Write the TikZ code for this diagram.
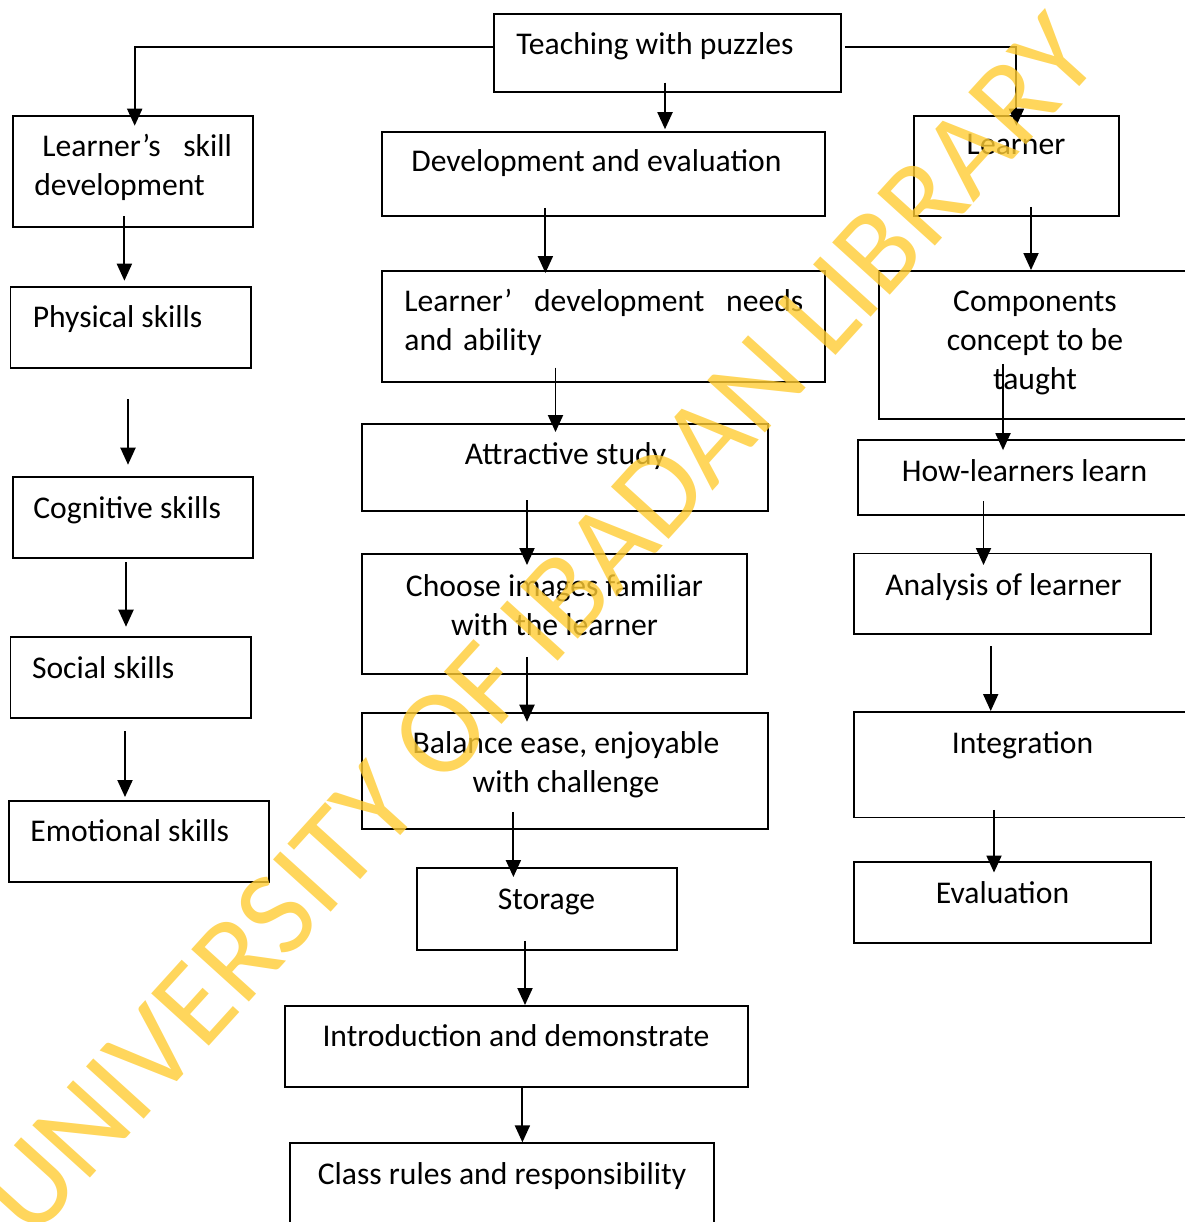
\documentclass[tikz,border=0pt]{standalone}
\usepackage{fontspec}
\setmainfont{Carlito}
\usetikzlibrary{arrows.meta,fit}
\definecolor{stamp}{RGB}{255,204,51}
\tikzset{
  box/.style={draw, line width=1.1pt, inner sep=0pt},
  txt/.style={inner sep=0pt, font=\fontsize{18}{22}\selectfont},
  arr/.style={line width=1.1pt, -{Triangle[length=3.4mm,width=3mm]}},
}
\begin{document}
\begin{tikzpicture}[x=0.02cm, y=-0.02cm]
\useasboundingbox (0,0) rectangle (1184,1222);

% boxes
\node[box, fit={(494,14) (841,91.7)}] (teach) {};
\node[box, fit={(13,115.7) (253,226.7)}] (skill) {};
\node[box, fit={(382,131.7) (824.6,216)}] (dev) {};
\node[box, fit={(914,115.7) (1119,216)}] (learner) {};
\node[box, fit={(10.5,286.7) (251.4,368.3)}] (phys) {};
\node[box, fit={(382,271) (824.6,381.7)}] (needs) {};
\node[box, fit={(878.6,271) (1200,419.3)}] (comp) {};
\node[box, fit={(12.7,476.7) (253,557.7)}] (cog) {};
\node[box, fit={(361.7,424) (768,510.7)}] (attr) {};
\node[box, fit={(858,439.6) (1200,515.3)}] (how) {};
\node[box, fit={(362,554) (747,674)}] (choose) {};
\node[box, fit={(854,553.5) (1151,634.4)}] (anal) {};
\node[box, fit={(10.5,636.7) (251,718.3)}] (social) {};
\node[box, fit={(362,712.7) (768,829)}] (balance) {};
\node[box, fit={(854,712) (1200,817.5)}] (integ) {};
\node[box, fit={(9,801) (269,881.7)}] (emo) {};
\node[box, fit={(417,868) (677,950)}] (storage) {};
\node[box, fit={(854,862) (1151,943)}] (eval) {};
\node[box, fit={(285,1006) (747.8,1086.7)}] (intro) {};
\node[box, fit={(289.6,1143.3) (714,1240)}] (class) {};

% texts
\node[txt, anchor=base west] (teacht) at (516,55) {Teaching with puzzles};
\node[txt, anchor=base west, text width=3.95cm, align=left] (skillt) at (34,157)
  {\hspace*{0.16cm}Learner’s\hfill skill\\development};
\node[txt, anchor=base west] (devt) at (411,172) {Development and evaluation};
\node[txt, anchor=base] (learnert) at (1016,155) {Learner};
\node[txt, anchor=base west] (physt) at (32.5,328) {Physical skills};
\node[txt, anchor=base west, text width=7.98cm, align=left] (needst) at (404,312)
  {Learner’\hfill development\hfill needs\\and ability};
\node[txt, anchor=base, align=center] (compt) at (1035,389.3)
  {Components\\concept to be\\taught};
\node[txt, anchor=base west] (cogt) at (33,518) {Cognitive skills};
\node[txt, anchor=base] (attrt) at (565.5,464) {Attractive study};
\node[txt, anchor=base] (howt) at (1024.5,481) {How-learners learn};
\node[txt, anchor=base, align=center] (chooset) at (554.5,635)
  {Choose images familiar\\with the learner};
\node[txt, anchor=base] (analt) at (1003.5,595.5) {Analysis of learner};
\node[txt, anchor=base west] (socialt) at (31.7,678) {Social skills};
\node[txt, anchor=base, align=center] (balancet) at (566,792)
  {Balance ease, enjoyable\\with challenge};
\node[txt, anchor=base] (integt) at (1022.5,753) {Integration};
\node[txt, anchor=base west] (emot) at (30,841.7) {Emotional skills};
\node[txt, anchor=base] (storaget) at (546.5,909) {Storage};
\node[txt, anchor=base] (evalt) at (1002.5,903.5) {Evaluation};
\node[txt, anchor=base] (introt) at (516,1046.7) {Introduction and demonstrate};
\node[txt, anchor=base] (classt) at (502,1184) {Class rules and responsibility};

% connectors
\coordinate (top) at (0,46.7);
\draw[arr, shorten >=-2.2mm] (teach.west |- top) -| (skill.north -| 134.7,0);
\draw[arr, shorten <=0.6mm, shorten >=-2.2mm] (teach.east |- top) -| (learner.north -| 1016.4,0);
\draw[arr, shorten <=-2mm, shorten >=0.3mm] (teach.south -| 665,0) -- (dev.north -| 665,0);
\draw[arr, shorten <=-2.3mm, shorten >=1mm] (skill.south -| 124.4,0) -- (phys.north -| 124.4,0);
\draw[arr, shorten <=-1.8mm, shorten >=-0.6mm] (dev.south -| 545.4,0) -- (needs.north -| 545.4,0);
\draw[arr, shorten <=-2mm] (learner.south -| 1031,0) -- (comp.north -| 1031,0);
\draw[arr, shorten <=-3mm, shorten >=-1.8mm] (needs.south -| 555.5,0) -- (attr.north -| 555.5,0);
\draw[arr, shorten <=-11.3mm, shorten >=-2.3mm] (comp.south -| 1003,0) -- (how.north -| 1003,0);
\draw[arr, shorten <=6mm, shorten >=2.2mm] (phys.south -| 128,0) -- (cog.north -| 128,0);
\draw[arr, shorten <=-2.3mm, shorten >=-2.4mm] (attr.south -| 527,0) -- (choose.north -| 527,0);
\draw[arr, shorten <=-3mm, shorten >=-2.5mm] (how.south -| 983.5,0) -- (anal.north -| 983.5,0);
\draw[arr, shorten <=0.7mm, shorten >=1.8mm] (cog.south -| 126,0) -- (social.north -| 126,0);
\draw[arr, shorten <=-3.6mm, shorten >=-2mm] (choose.south -| 527,0) -- (balance.north -| 527,0);
\draw[arr, shorten <=2.2mm] (anal.south -| 990.7,0) -- (integ.north -| 990.7,0);
\draw[arr, shorten <=2.4mm, shorten >=0.6mm] (social.south -| 125,0) -- (emo.north -| 125,0);
\draw[arr, shorten <=-3.6mm, shorten >=-2mm] (balance.south -| 513.4,0) -- (storage.north -| 513.4,0);
\draw[arr, shorten <=-1.7mm, shorten >=-2.3mm] (integ.south -| 994,0) -- (eval.north -| 994,0);
\draw[arr, shorten <=-2mm] (storage.south -| 525,0) -- (intro.north -| 525,0);
\draw[arr] (intro.south -| 522.4,0) -- (class.north -| 522.4,0);

% watermark
\node[rotate=47.8, text=stamp, opacity=0.8, inner sep=0pt,
  font=\fontsize{69}{69}\selectfont] (mark) at (539,625) {UNIVERSITY OF IBADAN LIBRARY};
\end{tikzpicture}
\end{document}
